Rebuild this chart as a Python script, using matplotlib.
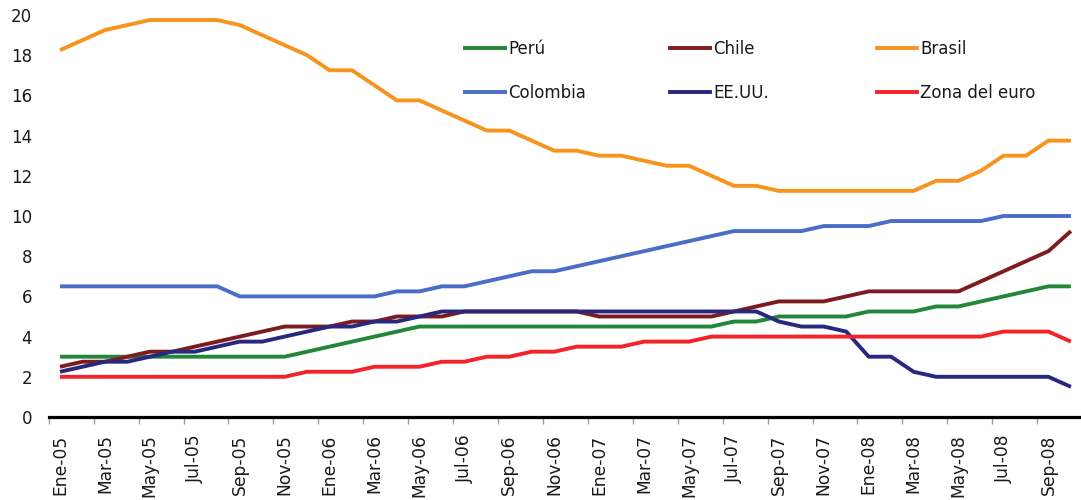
import matplotlib
matplotlib.use("Agg")
import matplotlib.pyplot as plt
from matplotlib.lines import Line2D

# Monthly policy rates (%), Ene-05 .. Oct-08
months_es = ["Ene", "Feb", "Mar", "Abr", "May", "Jun",
             "Jul", "Ago", "Sep", "Oct", "Nov", "Dic"]
years = ["05", "06", "07", "08"]
categories = [f"{m}-{y}" for y in years for m in months_es][:46]

peru = [3.0, 3.0, 3.0, 3.0, 3.0, 3.0, 3.0, 3.0, 3.0, 3.0, 3.0, 3.25,
        3.5, 3.75, 4.0, 4.25, 4.5, 4.5, 4.5, 4.5, 4.5, 4.5, 4.5, 4.5,
        4.5, 4.5, 4.5, 4.5, 4.5, 4.5, 4.75, 4.75, 5.0, 5.0, 5.0, 5.0,
        5.25, 5.25, 5.25, 5.5, 5.5, 5.75, 6.0, 6.25, 6.5, 6.5]

chile = [2.5, 2.75, 2.75, 3.0, 3.25, 3.25, 3.5, 3.75, 4.0, 4.25, 4.5, 4.5,
         4.5, 4.75, 4.75, 5.0, 5.0, 5.0, 5.25, 5.25, 5.25, 5.25, 5.25, 5.25,
         5.0, 5.0, 5.0, 5.0, 5.0, 5.0, 5.25, 5.5, 5.75, 5.75, 5.75, 6.0,
         6.25, 6.25, 6.25, 6.25, 6.25, 6.75, 7.25, 7.75, 8.25, 9.25]

brasil = [18.25, 18.75, 19.25, 19.5, 19.75, 19.75, 19.75, 19.75, 19.5, 19.0,
          18.5, 18.0, 17.25, 17.25, 16.5, 15.75, 15.75, 15.25, 14.75, 14.25,
          14.25, 13.75, 13.25, 13.25, 13.0, 13.0, 12.75, 12.5, 12.5, 12.0,
          11.5, 11.5, 11.25, 11.25, 11.25, 11.25, 11.25, 11.25, 11.25, 11.75,
          11.75, 12.25, 13.0, 13.0, 13.75, 13.75]

colombia = [6.5, 6.5, 6.5, 6.5, 6.5, 6.5, 6.5, 6.5, 6.0, 6.0, 6.0, 6.0,
            6.0, 6.0, 6.0, 6.25, 6.25, 6.5, 6.5, 6.75, 7.0, 7.25, 7.25, 7.5,
            7.75, 8.0, 8.25, 8.5, 8.75, 9.0, 9.25, 9.25, 9.25, 9.25, 9.5, 9.5,
            9.5, 9.75, 9.75, 9.75, 9.75, 9.75, 10.0, 10.0, 10.0, 10.0]

eeuu = [2.25, 2.5, 2.75, 2.75, 3.0, 3.25, 3.25, 3.5, 3.75, 3.75, 4.0, 4.25,
        4.5, 4.5, 4.75, 4.75, 5.0, 5.25, 5.25, 5.25, 5.25, 5.25, 5.25, 5.25,
        5.25, 5.25, 5.25, 5.25, 5.25, 5.25, 5.25, 5.25, 4.75, 4.5, 4.5, 4.25,
        3.0, 3.0, 2.25, 2.0, 2.0, 2.0, 2.0, 2.0, 2.0, 1.5]

euro = [2.0, 2.0, 2.0, 2.0, 2.0, 2.0, 2.0, 2.0, 2.0, 2.0, 2.0, 2.25,
        2.25, 2.25, 2.5, 2.5, 2.5, 2.75, 2.75, 3.0, 3.0, 3.25, 3.25, 3.5,
        3.5, 3.5, 3.75, 3.75, 3.75, 4.0, 4.0, 4.0, 4.0, 4.0, 4.0, 4.0,
        4.0, 4.0, 4.0, 4.0, 4.0, 4.0, 4.25, 4.25, 4.25, 3.75]

series = [
    ("Perú", peru, "#23873a"),
    ("Chile", chile, "#7d1c1e"),
    ("Brasil", brasil, "#f7941d"),
    ("Colombia", colombia, "#4b6cc7"),
    ("EE.UU.", eeuu, "#27287e"),
    ("Zona del euro", euro, "#f2232a"),
]

plt.rcParams["font.family"] = ["DejaVu Sans"]

fig = plt.figure(figsize=(10.81, 5.0), dpi=100)
ax = fig.add_axes([0.0451, 0.166, 0.9549, 0.804])

x = list(range(len(categories)))
handles = {}
for name, vals, color in series:
    ax.plot(x, vals, color=color, lw=2.8, solid_joinstyle="round",
            solid_capstyle="butt", zorder=3)
    handles[name] = Line2D([], [], color=color, lw=2.8)

ax.set_xlim(-0.5, 45.45)
ax.set_ylim(0, 20)

# y axis: labels only
ax.set_yticks(range(0, 21, 2))
ax.tick_params(axis="y", length=0, pad=12, labelsize=12, labelcolor="#1a1a1a")

# x axis: tick marks between categories, labels on every other month
ax.set_xticks([i - 0.5 for i in range(0, 46, 2)])
ax.set_xticklabels([])
ax.tick_params(axis="x", which="major", length=5, width=1, color="#9a9a9a")
ax.set_xticks(list(range(0, 46, 2)), minor=True)
ax.set_xticklabels(categories[0:46:2], minor=True, rotation=90)
ax.tick_params(axis="x", which="minor", length=0, pad=12.5, labelsize=12.3,
               labelcolor="#1a1a1a")

for s in ("top", "right", "left"):
    ax.spines[s].set_visible(False)
ax.spines["bottom"].set_color("black")
ax.spines["bottom"].set_linewidth(2.3)
ax.spines["bottom"].set_zorder(4)

# Legend: three columns of two entries each
columns = [("Perú", "Colombia"), ("Chile", "EE.UU."), ("Brasil", "Zona del euro")]
col_x = [0.4302, 0.6198, 0.8113]
for names, cx in zip(columns, col_x):
    leg = fig.legend([handles[n] for n in names], list(names),
                     loc="upper left", bbox_to_anchor=(cx, 0.921),
                     frameon=False, fontsize=12, handlelength=2.4,
                     handletextpad=0.2, borderpad=0, borderaxespad=0,
                     labelspacing=1.58)
    for t in leg.get_texts():
        t.set_color("#1a1a1a")

fig.savefig("out.png", dpi=100)
